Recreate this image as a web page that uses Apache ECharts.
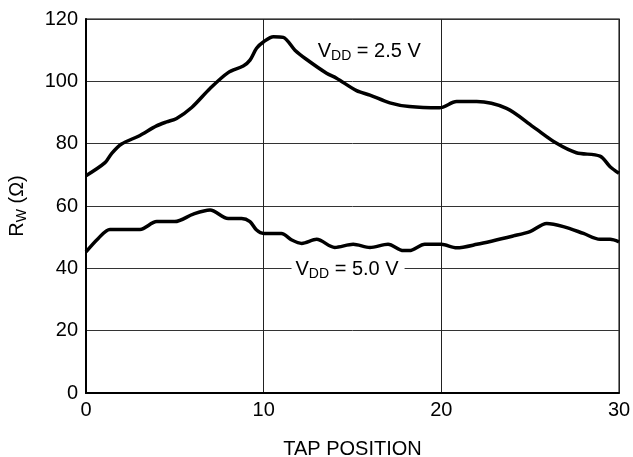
<!DOCTYPE html>
<html><head><meta charset="utf-8">
<script src="https://cdn.jsdelivr.net/npm/echarts@6/dist/echarts.min.js"></script>
<style>html,body{margin:0;padding:0;background:#fff}#c{width:633px;height:457px}</style>
</head><body><div id="c"></div>
<script>
const xTicks = [0, 10, 20, 30];
const yTicks = [0, 20, 40, 60, 80, 100, 120];
const vdd25 = [[0,69.7],[1.07,73.9],[1.45,76.9],[2.0,79.9],[2.95,82.4],[3.97,85.7],[4.54,87],[5.1,88.1],[5.95,91.6],[6.98,97.7],[8.0,102.8],[8.85,104.9],[9.23,106.8],[9.6,110.6],[10.0,112.7],[10.55,114.3],[11.1,114.1],[11.76,110],[12.42,107],[13.54,102.6],[14.1,101],[15.23,97],[15.98,95.6],[17.1,93.1],[18.2,91.9],[19.9,91.5],[20.86,93.5],[21.99,93.5],[23.67,91.3],[25.17,85.4],[26.49,80.1],[27.6,77.1],[28.93,76],[29.5,72.6],[30,70.5]];
const vdd50 = [[0,45.3],[0.69,49.6],[1.35,52.5],[3.04,52.5],[3.98,55],[5.0,55],[6.04,57.4],[6.98,58.7],[8.0,56],[8.76,56],[9.23,55],[9.6,52.3],[10,51.2],[11.0,51.2],[11.58,49.1],[12.14,48],[12.98,49.3],[14.0,46.7],[15.04,47.7],[15.98,46.7],[17.0,47.7],[17.86,45.7],[18.2,45.7],[19.07,47.7],[20.0,47.7],[20.86,46.6],[22,47.7],[24.05,50.4],[24.99,51.8],[25.93,54.4],[26.87,53.4],[28.0,51.2],[28.93,49.3],[29.5,49.3],[30,48.5]];
const label25 = {text: ['V', 'DD', ' = 2.5 V'], at: [16.0, 109.5]};
const label50 = {text: ['V', 'DD', ' = 5.0 V'], at: [14.75, 39.5]};

const FONT = 'Liberation Sans';
const chart = echarts.init(document.getElementById('c'), null, {renderer: 'canvas'});
const rich = {
  v: {fontFamily: FONT, fontSize: 20, color: '#000'},
  s: {fontFamily: FONT, fontSize: 14, color: '#000', verticalAlign: 'bottom', padding: [9,0,0,0]}
};
function lab(l, bg) {
  return {
    coord: l.at, symbol: 'circle', symbolSize: 0,
    label: {show: true, position: 'inside', formatter: '{v|' + l.text[0] + '}{s|' + l.text[1] + '}{v|' + l.text[2] + '}',
      rich: rich, backgroundColor: bg ? '#fff' : 'transparent', padding: [2, 6, 2, 4]}
  };
}
chart.setOption({
  animation: false,
  backgroundColor: '#fff',
  grid: {left: 86, right: 14, top: 19, bottom: 64, containLabel: false, outerBoundsMode: 'none',
         show: true, borderColor: '#555', borderWidth: 1.5},
  xAxis: {
    type: 'value', min: 0, max: 30, interval: 10,
    name: 'TAP POSITION', nameLocation: 'middle', nameGap: 46,
    nameTextStyle: {fontFamily: FONT, fontSize: 20, color: '#000'},
    axisLine: {show: true, lineStyle: {color: '#000', width: 2}},
    axisTick: {show: false},
    axisLabel: {fontFamily: FONT, fontSize: 20, color: '#000', margin: 7, formatter: v => xTicks.includes(v) ? String(v) : ''},
    splitLine: {show: true, lineStyle: {color: '#222', width: 1}}
  },
  yAxis: {
    type: 'value', min: 0, max: 120, interval: 20,
    name: '{v|R}{s|W}{v| (Ω)}', nameLocation: 'middle', nameGap: 57, nameRotate: 90,
    nameTextStyle: {rich: {
      v: {fontFamily: FONT, fontSize: 20, color: '#000'},
      s: {fontFamily: FONT, fontSize: 14, color: '#000', verticalAlign: 'bottom', padding: [9,0,0,0]}
    }},
    axisLine: {show: true, lineStyle: {color: '#000', width: 2}},
    axisTick: {show: false},
    axisLabel: {fontFamily: FONT, fontSize: 20, color: '#000', margin: 8, formatter: v => yTicks.includes(v) ? String(v) : ''},
    splitLine: {show: true, lineStyle: {color: '#333', width: 1}}
  },
  series: [
    {type: 'line', data: vdd25, showSymbol: false, smooth: 0.3, lineStyle: {color: '#000', width: 3.5},
     markPoint: {data: [lab(label25, false)], silent: true}, z: 3},
    {type: 'line', data: vdd50, showSymbol: false, smooth: 0.3, lineStyle: {color: '#000', width: 3.5},
     markPoint: {data: [lab(label50, true)], silent: true}, z: 3}
  ]
});
</script></body></html>
